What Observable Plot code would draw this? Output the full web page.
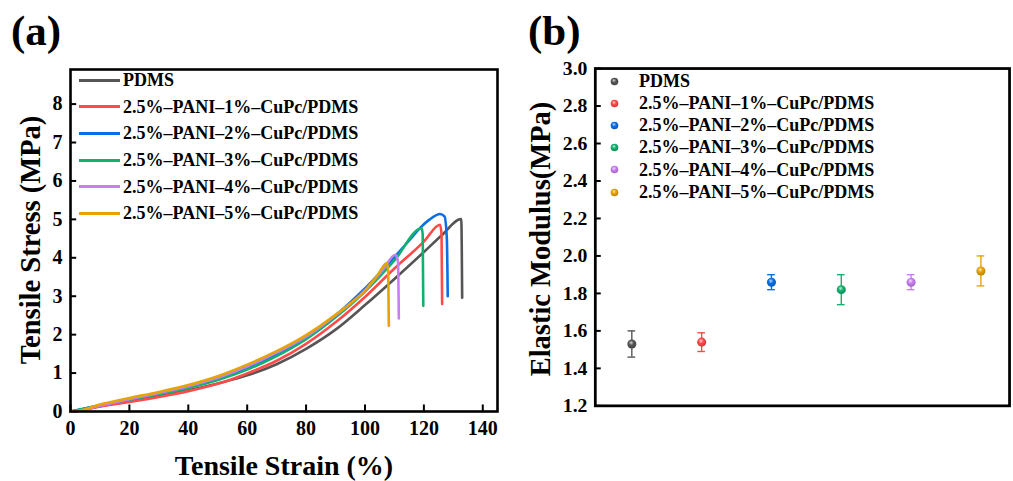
<!DOCTYPE html>
<html><head><meta charset="utf-8">
<script src="https://cdn.jsdelivr.net/npm/d3@7"></script>
<script src="https://cdn.jsdelivr.net/npm/@observablehq/plot@0.6"></script>
<style>
html,body{margin:0;padding:0;background:#fff;width:1013px;height:481px;overflow:hidden;}
#root{position:relative;width:1013px;height:481px;overflow:hidden;font-family:"Liberation Serif","Times New Roman",serif;font-weight:bold;color:#000;}
.panel{position:absolute;top:0;}
.abs{position:absolute;white-space:nowrap;line-height:1;}
.tag{font-size:43px;}
.ylab{font-size:28.5px;transform:translate(-50%,-50%) rotate(-90deg);}
.xlab{font-size:28px;transform:translateX(-50%);}
.row{position:absolute;white-space:nowrap;display:flex;align-items:center;height:20px;font-size:18px;line-height:1;}
</style></head><body>
<svg width="0" height="0" style="position:absolute"><defs id="grads"></defs></svg>
<div id="root"></div>
<script>
// ---------- data ----------
const series = ["PDMS","2.5%–PANI–1%–CuPc/PDMS","2.5%–PANI–2%–CuPc/PDMS","2.5%–PANI–3%–CuPc/PDMS","2.5%–PANI–4%–CuPc/PDMS","2.5%–PANI–5%–CuPc/PDMS"];
const colors = ["#555555","#ff4a4a","#0a6fe6","#12b06e","#c87ef2","#e8a202"];

const strainPDMS = [0,10,20,30,40,50,60,70,80,90,100,110,120,126,132.7,133.0];
const stressPDMS = [0,0.14,0.27,0.4,0.55,0.73,0.94,1.23,1.63,2.13,2.77,3.45,4.15,4.58,5.01,2.96];
const strain1 = [0,3,10,20,30,40,50,60,70,80,90,100,110,120,125.5,126,126.2];
const stress1 = [0,0.02,0.13,0.25,0.38,0.53,0.72,0.99,1.32,1.76,2.32,2.98,3.72,4.42,4.86,4.6,2.8];
const strain2 = [0,10,20,30,40,50,60,70,80,90,100,110,115,119,122,125.5,127,127.8,128.1];
const stress2 = [0,0.16,0.31,0.46,0.63,0.85,1.13,1.48,1.92,2.5,3.2,4.02,4.45,4.8,5.0,5.14,5.08,4.5,3.0];
const strain3 = [0,10,20,30,40,50,60,70,80,90,100,110,119.3,119.6,119.8];
const stress3 = [0,0.16,0.31,0.45,0.61,0.82,1.09,1.44,1.88,2.45,3.12,3.93,4.77,4.6,2.75];
const strain4 = [0,3,10,20,30,40,50,60,70,80,90,100,106,110.4,111.2,111.5];
const stress4 = [0,0.02,0.15,0.32,0.48,0.66,0.88,1.17,1.53,1.95,2.5,3.15,3.68,4.08,3.9,2.42];
const strain5 = [0,3,10,20,30,40,50,60,70,80,90,100,104,107.5,107.9,108.1];
const stress5 = [0,0.02,0.18,0.35,0.51,0.69,0.92,1.22,1.57,1.99,2.52,3.15,3.52,3.86,3.6,2.23];

const modulus = [1.53,1.54,1.86,1.82,1.86,1.92];
const modulusLow = [1.46,1.49,1.82,1.74,1.82,1.84];
const modulusHigh = [1.60,1.59,1.90,1.90,1.90,2.00];

const xTicksA = [0,20,40,60,80,100,120,140];
const yTicksA = [0,1,2,3,4,5,6,7,8];
const yTicksB = [1.2,1.4,1.6,1.8,2.0,2.2,2.4,2.6,2.8,3.0];

// ---------- build tables ----------
const strains = [strainPDMS,strain1,strain2,strain3,strain4,strain5];
const stresses = [stressPDMS,stress1,stress2,stress3,stress4,stress5];
const rowsA = series.flatMap((s,i)=>strains[i].map((x,j)=>({series:s,strain:x,stress:stresses[i][j]})));
const rowsB = series.map((s,i)=>({series:s,pos:i+1,mod:modulus[i],lo:modulusLow[i],hi:modulusHigh[i],color:colors[i]}));

const root = document.getElementById("root");
const font = {fontFamily:"Liberation Serif, Times New Roman, serif",fontWeight:"bold",fontSize:"20px",color:"#000",background:"transparent",overflow:"visible"};

// gradients for balls
const defs = document.getElementById("grads");
colors.forEach((c,i)=>{
  const dark = d3.color(c).darker(0.6).formatHex();
  const light = d3.interpolateRgb(c,"#ffffff")(0.75);
  defs.insertAdjacentHTML("beforeend",
    `<radialGradient id="ball${i}" cx="45%" cy="40%" r="60%" fx="42%" fy="35%">
      <stop offset="0%" stop-color="${light}"/><stop offset="45%" stop-color="${c}"/><stop offset="100%" stop-color="${dark}"/></radialGradient>`);
});

// ---------- panel a ----------
const xDomA = [0,145], yDomA = [0,8.9];
const plotA = Plot.plot({
  width:510,height:481,marginLeft:70,marginRight:13,marginTop:69,marginBottom:70,
  style:font,
  x:{domain:xDomA,label:null},
  y:{domain:yDomA,label:null},
  color:{domain:series,range:colors},
  marks:[
    Plot.axisX(xTicksA,{tickSize:0,tickPadding:9,label:null,fontSize:20}),
    Plot.axisY(yTicksA,{tickSize:0,tickPadding:8,label:null,fontSize:20}),
    Plot.ruleX(xTicksA,{x:d=>d,y1:yDomA[0],y2:yDomA[0]+0.17,stroke:"#000",strokeWidth:2}),
    Plot.ruleY(yTicksA,{y:d=>d,x1:xDomA[0],x2:xDomA[0]+2.1,stroke:"#000",strokeWidth:2}),
    Plot.line(rowsA,{x:"strain",y:"stress",z:"series",stroke:"series",strokeWidth:2.6,strokeLinejoin:"round",curve:"monotone-x"}),
    Plot.frame({stroke:"#000",strokeWidth:2.6})
  ]
});
const pa = document.createElement("div"); pa.className="panel"; pa.style.left="0px"; pa.appendChild(plotA); root.appendChild(pa);

// ---------- panel b ----------
const xDomB = [0.477,6.41], yDomB = [1.2,3.0];
const plotB = Plot.plot({
  width:510,height:481,marginLeft:86,marginRight:4,marginTop:69,marginBottom:70,
  style:font,
  x:{domain:xDomB,axis:null},
  y:{domain:yDomB,label:null},
  marks:[
    Plot.axisY(yTicksB,{tickSize:0,tickPadding:8,label:null,fontSize:20,tickFormat:d=>d.toFixed(1)}),
    Plot.ruleY(yTicksB,{y:d=>d,x1:xDomB[0],x2:xDomB[0]+0.085,stroke:"#000",strokeWidth:2}),
    Plot.ruleX(rowsB,{x:"pos",y1:"lo",y2:"hi",stroke:d=>d.color,strokeWidth:1.4}),
    Plot.ruleY(rowsB,{y:"lo",x1:d=>d.pos-0.055,x2:d=>d.pos+0.055,stroke:d=>d.color,strokeWidth:1.4}),
    Plot.ruleY(rowsB,{y:"hi",x1:d=>d.pos-0.055,x2:d=>d.pos+0.055,stroke:d=>d.color,strokeWidth:1.4}),
    ...rowsB.map((d,i)=>Plot.dot([d],{x:"pos",y:"mod",r:4.6,fill:`url(#ball${i})`,stroke:null})),
    Plot.frame({stroke:"#000",strokeWidth:2.8})
  ]
});
const pb = document.createElement("div"); pb.className="panel"; pb.style.left="510px"; pb.appendChild(plotB); root.appendChild(pb);

// ---------- texts ----------
function addText(cls,txt,left,top){const d=document.createElement("div");d.className="abs "+cls;d.textContent=txt;d.style.left=left+"px";d.style.top=top+"px";root.appendChild(d);return d;}
addText("tag","(a)",11,9);
addText("tag","(b)",528,9);
addText("ylab","Tensile Stress (MPa)",31,240);
addText("ylab","Elastic Modulus(MPa)",541,239);
addText("xlab","Tensile Strain (%)",284,452);

// legend a
const legACy = [80,106.7,133.3,160,186.7,213.3];
series.forEach((s,i)=>{
  const r=document.createElement("div");r.className="row";r.style.left="79px";r.style.top=(legACy[i]-10)+"px";
  r.innerHTML=`<span style="display:inline-block;width:41px;height:3px;background:${colors[i]};margin-right:3px"></span><span></span>`;
  r.lastChild.textContent=s;root.appendChild(r);
});
// legend b
const legBCy = [81,103,125,147,169.5,192];
series.forEach((s,i)=>{
  const r=document.createElement("div");r.className="row";r.style.left="610px";r.style.top=(legBCy[i]-10)+"px";
  r.innerHTML=`<svg width="9" height="9" style="margin-right:20px"><circle cx="4.5" cy="4.5" r="3.8" fill="url(#ball${i})"/></svg><span></span>`;
  r.lastChild.textContent=s;root.appendChild(r);
});
</script></body></html>
